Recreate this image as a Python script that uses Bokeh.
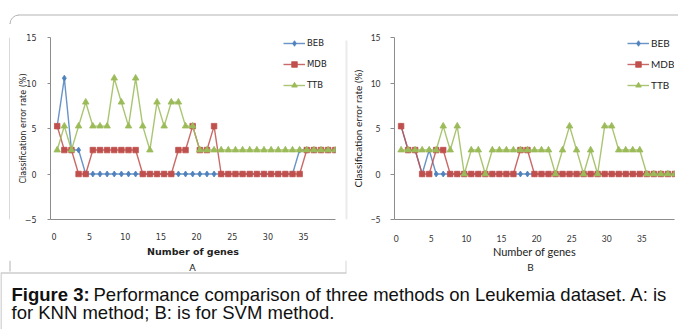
from math import pi
from bokeh.plotting import figure
from bokeh.layouts import row, column
from bokeh.models import FixedTicker, Range1d, Label, BoxAnnotation
from bokeh.embed import file_html
from bokeh.resources import INLINE

# ---------------- data ----------------
genes = list(range(40))
x_tick_values = [0, 5, 10, 15, 20, 25, 30, 35]
y_tick_values = [-5, 0, 5, 10, 15]
series_names = ["BEB", "MDB", "TTB"]

A_BEB = [5.26, 10.53, 2.63, 2.63, 0, 0, 0, 0, 0, 0,
         0, 0, 0, 0, 0, 0, 0, 0, 0, 0,
         0, 0, 0, 0, 0, 0, 0, 0, 0, 0,
         0, 0, 0, 0, 2.63, 2.63, 2.63, 2.63, 2.63, 2.63]
A_MDB = [5.26, 2.63, 2.63, 0, 0, 2.63, 2.63, 2.63, 2.63, 2.63,
         2.63, 2.63, 0, 0, 0, 0, 0, 2.63, 2.63, 5.26,
         2.63, 2.63, 5.26, 0, 0, 0, 0, 0, 0, 0,
         0, 0, 0, 0, 0, 2.63, 2.63, 2.63, 2.63, 2.63]
A_TTB = [2.63, 5.26, 2.63, 5.26, 7.89, 5.26, 5.26, 5.26, 10.53, 7.89,
         5.26, 10.53, 5.26, 2.63, 7.89, 5.26, 7.89, 7.89, 5.26, 5.26,
         2.63, 2.63, 2.63, 2.63, 2.63, 2.63, 2.63, 2.63, 2.63, 2.63,
         2.63, 2.63, 2.63, 2.63, 2.63, 2.63, 2.63, 2.63, 2.63, 2.63]

B_BEB = [5.26, 2.63, 2.63, 0, 2.63, 0, 0, 0, 0, 0,
         0, 0, 0, 0, 0, 0, 0, 0, 0, 0,
         0, 0, 0, 0, 0, 0, 0, 0, 0, 0,
         0, 0, 0, 0, 0, 0, 0, 0, 0, 0]
B_MDB = [5.26, 2.63, 2.63, 0, 0, 2.63, 2.63, 0, 0, 0,
         0, 0, 0, 0, 0, 0, 0, 2.63, 2.63, 0,
         0, 0, 0, 0, 0, 0, 0, 0, 0, 0,
         0, 0, 0, 0, 0, 0, 0, 0, 0, 0]
B_TTB = [2.63, 2.63, 2.63, 2.63, 2.63, 2.63, 5.26, 2.63, 5.26, 0,
         2.63, 2.63, 0, 2.63, 2.63, 2.63, 2.63, 2.63, 2.63, 2.63,
         2.63, 2.63, 0, 2.63, 5.26, 2.63, 0, 2.63, 0, 5.26,
         5.26, 2.63, 2.63, 2.63, 2.63, 0, 0, 0, 0, 0]

x_label = "Number of genes"
y_label = "Classification error rate (%)"
panel_letters = ["A", "B"]
caption_bold = "Figure 3:"
caption_line1 = "Performance comparison of three methods on Leukemia dataset. A: is"
caption_line2 = "for KNN method; B: is for SVM method."

COLORS = {"BEB": "#4F81BD", "MDB": "#C0504D", "TTB": "#9BBB59"}
MARKERS = {"BEB": ("diamond", 6), "MDB": ("square", 5.5), "TTB": ("triangle", 6.5)}
AXIS_COLOR = "#8c8c8c"
TEXT_COLOR = "#333333"
BORDER = "#b4b4b4"

TOP_H = 24
ROW_H = 236
CAP_H = 69


def blank(width, height):
    f = figure(width=width, height=height, output_backend="svg", toolbar_location=None,
               x_range=Range1d(0, width), y_range=Range1d(0, height),
               x_axis_location=None, y_axis_location=None, min_border=0)
    f.outline_line_color = None
    f.grid.visible = False
    return f


def rule(f, left, right, bottom, top, color=BORDER):
    f.add_layout(BoxAnnotation(left=left, right=right, bottom=bottom, top=top,
                               fill_color=color, fill_alpha=1, line_color=None))


def make_panel(width, mb_left, mb_right, mb_top, mb_bottom, x_start, x_end,
               label_shift, data, font, tick_size, legend_size, xlab_size, xlab_style,
               ylab_size, y_tick_out, y_label_standoff, y_axis_label_standoff,
               x_label_standoff, x_axis_label_standoff, legend_loc):
    p = figure(width=width, height=ROW_H, output_backend="svg", toolbar_location=None,
               x_range=Range1d(x_start, x_end), y_range=Range1d(-5, 15),
               min_border_left=mb_left, min_border_right=mb_right,
               min_border_top=mb_top, min_border_bottom=mb_bottom)
    p.outline_line_color = None
    p.grid.visible = False

    for name, ys in zip(series_names, data):
        c = COLORS[name]
        mk, sz = MARKERS[name]
        p.line(genes, ys, line_color=c, line_width=1.4, line_alpha=0.85, legend_label=name)
        p.scatter(genes, ys, marker=mk, size=sz, fill_color=c, line_color=c,
                  line_alpha=0.8, legend_label=name)

    ticks = [k + label_shift for k in x_tick_values]
    xa = p.xaxis[0]
    xa.ticker = FixedTicker(ticks=ticks)
    xa.major_label_overrides = {t: str(k) for t, k in zip(ticks, x_tick_values)}
    xa.major_tick_out = 0
    xa.major_tick_in = 0
    xa.minor_tick_out = 0
    xa.minor_tick_in = 0
    xa.axis_line_color = AXIS_COLOR
    xa.major_label_text_font = font
    xa.major_label_text_font_size = tick_size
    xa.major_label_text_color = TEXT_COLOR
    xa.major_label_standoff = x_label_standoff
    xa.axis_label = x_label
    xa.axis_label_text_font = font
    xa.axis_label_text_font_size = xlab_size
    xa.axis_label_text_font_style = xlab_style
    xa.axis_label_text_color = "#222222"
    xa.axis_label_standoff = x_axis_label_standoff

    ya = p.yaxis[0]
    ya.ticker = FixedTicker(ticks=y_tick_values)
    ya.major_tick_out = y_tick_out
    ya.major_tick_in = 0
    ya.minor_tick_out = 0
    ya.minor_tick_in = 0
    ya.axis_line_color = AXIS_COLOR
    ya.major_tick_line_color = AXIS_COLOR
    ya.major_label_text_font = font
    ya.major_label_text_font_size = tick_size
    ya.major_label_text_color = TEXT_COLOR
    ya.major_label_standoff = y_label_standoff
    ya.axis_label = y_label
    ya.axis_label_text_font = font
    ya.axis_label_text_font_size = ylab_size
    ya.axis_label_text_font_style = "normal"
    ya.axis_label_text_color = "#222222"
    ya.axis_label_standoff = y_axis_label_standoff

    lg = p.legend[0]
    lg.location = legend_loc
    lg.border_line_color = None
    lg.background_fill_alpha = 0
    lg.padding = 0
    lg.margin = 0
    lg.spacing = 7
    lg.glyph_height = 14
    lg.glyph_width = 22
    lg.label_height = 14
    lg.label_standoff = 2
    lg.label_text_font = font
    lg.label_text_font_size = legend_size
    lg.label_text_color = "#222222"
    return p


# Panel A (KNN)
pA = make_panel(335, 40, 10, 12, 41, -0.94, 39.03, -0.45,
                [A_BEB, A_MDB, A_TTB], "DejaVu Sans", "8px", "8.5px", "9.5px", "bold",
                "8px", 3, 11, -6, 13, 3, (233, 127))

# Panel B (SVM)
pB = make_panel(330, 42, 4, 13, 40, -0.94, 38.95, -0.7,
                [B_BEB, B_MDB, B_TTB], "Lato", "8.5px", "10px", "11px", "normal",
                "10px", 4, 10, 4, 15, 0, (233, 127))

# frame lines of the figure box (rounded top-left corner)
top_strip = blank(678, TOP_H)
rule(top_strip, 18, 678, 9, 10)
rule(top_strip, 9, 10, 0, 1)
top_strip.arc(x=[18.5], y=[0.5], radius=9, start_angle=pi / 2, end_angle=pi,
              line_color=BORDER, line_width=1)
left_strip = blank(10, ROW_H)
rule(left_strip, 9, 10, 0, ROW_H)
div_strip = blank(3, ROW_H)
rule(div_strip, 0, 1, 0, ROW_H - 4, "#d6d6d6")
rule(div_strip, 2, 3, 0, ROW_H - 4, "#ededed")

# Caption area (also carries the panel letters)
pC = blank(678, CAP_H)
rule(pC, 9, 10, 58, CAP_H)
rule(pC, 345, 346, 57, CAP_H, "#d6d6d6")
rule(pC, 0, 346, 56, 57)
rule(pC, 0, 1, 0, 56)
pC.add_layout(Label(x=192, y=62.3, x_units="screen", y_units="screen", text=panel_letters[0],
                    text_align="center", text_baseline="middle", text_font="DejaVu Sans",
                    text_font_size="9.5px", text_color="#222222"))
pC.add_layout(Label(x=530, y=62.5, x_units="screen", y_units="screen", text=panel_letters[1],
                    text_align="center", text_baseline="middle", text_font="Lato",
                    text_font_size="10px", text_color="#222222"))
cap_font = "Liberation Sans"
cap_size = "18.5px"
pC.add_layout(Label(x=11, y=34.7, x_units="screen", y_units="screen", text=caption_bold,
                    text_font=cap_font, text_font_size=cap_size, text_font_style="bold",
                    text_baseline="middle", text_color="#111111"))
pC.add_layout(Label(x=93, y=34.7, x_units="screen", y_units="screen", text=caption_line1,
                    text_font=cap_font, text_font_size=cap_size,
                    text_baseline="middle", text_color="#111111"))
pC.add_layout(Label(x=11, y=17.3, x_units="screen", y_units="screen", text=caption_line2,
                    text_font=cap_font, text_font_size=cap_size,
                    text_baseline="middle", text_color="#111111"))

layout = column(top_strip, row(left_strip, pA, div_strip, pB), pC)
open("out.html", "w").write(file_html(layout, INLINE))
